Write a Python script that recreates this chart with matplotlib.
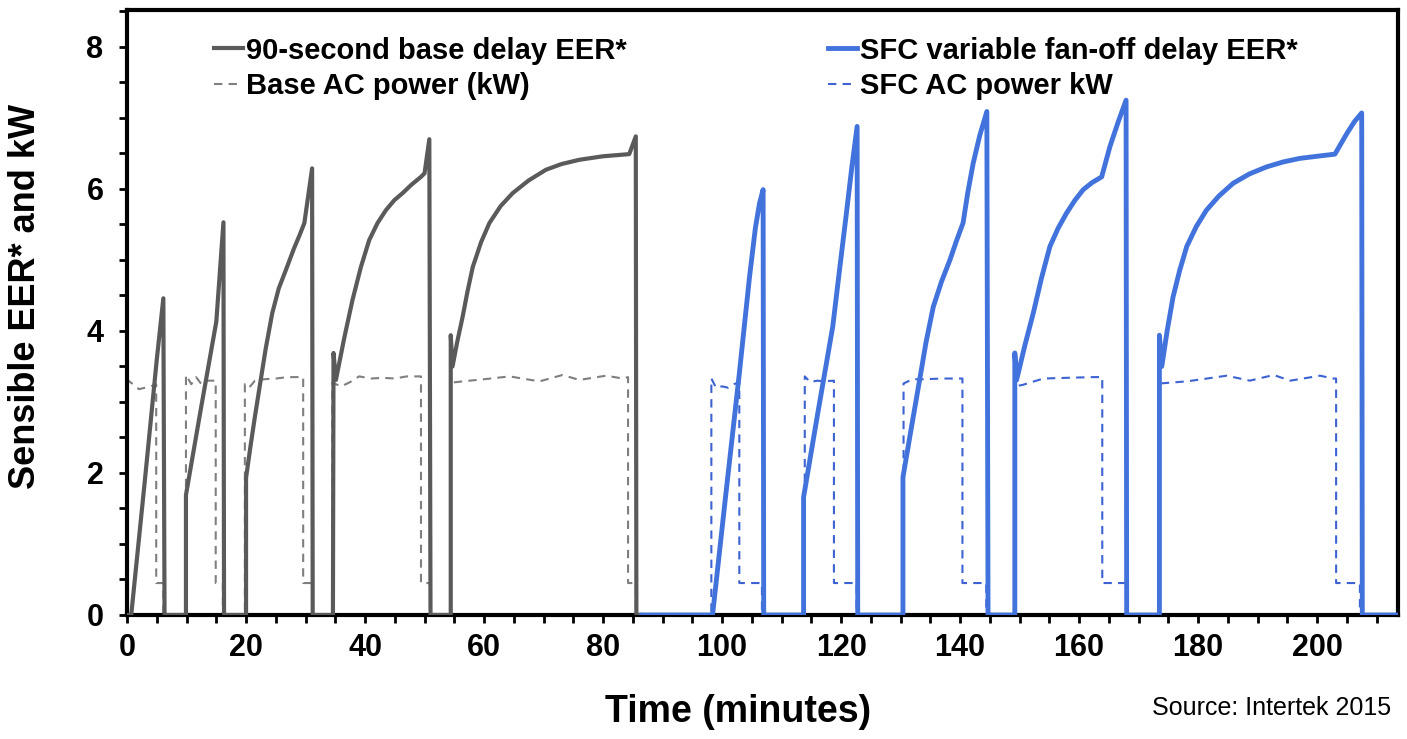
import matplotlib
matplotlib.use("Agg")
import matplotlib.pyplot as plt
from matplotlib.ticker import MultipleLocator

# time in minutes
base_eer_t = [0, 0.7, 3.0, 5.0, 6.1, 6.3,
              9.9, 9.9, 12.4, 15.0, 16.2, 16.3,
              20.0, 20.0, 20.7, 21.5, 22.2, 23.3, 24.4, 25.5, 26.7, 28.0, 29.0, 29.8, 31.1, 31.2,
              34.6, 34.7, 35.1, 36.5, 37.9, 39.3, 40.7, 42.1, 43.5, 44.9, 46.3, 47.8, 49.4, 50.0,
              50.8, 51.0,
              54.4, 54.4, 54.7, 55.5, 56.4, 57.2, 58.1, 59.5, 60.9, 62.8, 64.8, 67.5, 70.4, 73.0,
              76.0, 80.0, 84.4, 85.5, 85.6, 86.5]
base_eer_v = [0, 0, 1.9, 3.6, 4.46, 0,
              0, 1.69, 2.9, 4.13, 5.53, 0,
              0, 1.93, 2.35, 2.8, 3.17, 3.75, 4.25, 4.6, 4.86, 5.15, 5.35, 5.52, 6.29, 0,
              0, 3.69, 3.31, 3.9, 4.44, 4.9, 5.28, 5.52, 5.70, 5.84, 5.94, 6.06, 6.17, 6.22,
              6.70, 0,
              0, 3.94, 3.50, 3.85, 4.2, 4.55, 4.9, 5.25, 5.52, 5.76, 5.94, 6.12, 6.27, 6.35,
              6.41, 6.46, 6.49, 6.74, 0, 0]

sfc_eer_t = [86.5, 98.4, 100.5, 102.9, 104.6, 105.6, 106.3, 106.9, 107.0,
             113.7, 113.7, 116.0, 118.6, 119.8, 120.9, 121.8, 122.7, 122.8,
             130.4, 130.4, 131.8, 133.2, 134.3, 135.5, 136.9, 138.3, 139.4, 140.5, 141.3,
             142.2, 143.3, 144.5, 144.7,
             149.2, 149.2, 149.5, 150.9, 152.3, 153.7, 155.1, 156.5, 157.9, 159.3, 160.7,
             162.2, 163.8, 165.2, 166.6, 167.9, 168.0,
             173.5, 173.5, 173.9, 174.8, 175.8, 176.9, 178.1, 179.7, 181.4, 183.5, 185.9,
             188.6, 191.5, 194.3, 197.1, 200.0, 203.0, 205.0, 206.3, 207.5, 207.6, 214]
sfc_eer_v = [0, 0, 1.6, 3.4, 4.75, 5.45, 5.8, 5.99, 0,
             0, 1.66, 2.8, 4.06, 4.9, 5.66, 6.3, 6.88, 0,
             0, 1.94, 2.63, 3.31, 3.85, 4.34, 4.7, 5.0, 5.27, 5.52, 5.95,
             6.36, 6.75, 7.09, 0,
             0, 3.69, 3.31, 3.8, 4.25, 4.75, 5.19, 5.45, 5.66, 5.84, 5.99,
             6.09, 6.17, 6.60, 6.95, 7.25, 0,
             0, 3.94, 3.50, 4.0, 4.48, 4.85, 5.19, 5.47, 5.70, 5.9, 6.08,
             6.21, 6.31, 6.38, 6.43, 6.46, 6.49, 6.78, 6.95, 7.07, 0, 0]

base_kw_t = [0, 0.05, 1.0, 2.0, 3.0, 4.0, 4.9, 4.9, 6.1, 6.1,
             9.9, 9.9, 10.8, 11.6, 12.5, 13.5, 14.9, 14.9, 16.1, 16.1,
             19.8, 19.8, 20.5, 21.5, 23.0, 25.0, 27.0, 29.6, 29.6, 31.1, 31.1,
             34.5, 34.5, 36.0, 37.5, 39.0, 41.0, 43.0, 45.0, 47.0, 49.4, 49.4, 51.0, 51.0,
             54.4, 54.4, 56.4, 60.0, 64.3, 69.3, 73.2, 76.0, 80.5, 83.3, 84.2, 84.2,
             85.5, 85.5, 86.5]
base_kw_v = [0, 3.31, 3.25, 3.18, 3.2, 3.22, 3.25, 0.45, 0.45, 0,
             0, 3.38, 3.25, 3.35, 3.25, 3.3, 3.3, 0.45, 0.45, 0,
             0, 3.25, 3.2, 3.3, 3.32, 3.33, 3.35, 3.35, 0.45, 0.45, 0,
             0, 3.27, 3.22, 3.28, 3.36, 3.33, 3.34, 3.33, 3.36, 3.36, 0.45, 0.45, 0,
             0, 3.27, 3.29, 3.32, 3.36, 3.29, 3.38, 3.31, 3.37, 3.33, 3.35, 0.45,
             0.45, 0, 0]

sfc_kw_t = [86.5, 98.2, 98.2, 99.0, 100.0, 101.0, 102.0, 102.9, 102.9, 106.7, 106.7,
            113.9, 113.9, 114.8, 116.0, 117.0, 118.8, 118.8, 122.6, 122.6,
            130.5, 130.5, 132.0, 134.0, 137.0, 140.4, 140.4, 144.4, 144.4,
            149.2, 149.2, 150.5, 154.0, 158.0, 162.3, 163.9, 163.9, 168.0, 168.0,
            173.5, 173.5, 178.1, 181.5, 184.8, 188.7, 192.7, 195.5, 200.5, 202.7,
            203.2, 203.2, 207.2, 207.2, 214]
sfc_kw_v = [0, 0, 3.33, 3.2, 3.22, 3.2, 3.25, 3.28, 0.45, 0.45, 0,
            0, 3.36, 3.28, 3.3, 3.29, 3.3, 0.45, 0.45, 0,
            0, 3.26, 3.32, 3.32, 3.33, 3.33, 0.45, 0.45, 0,
            0, 3.22, 3.24, 3.33, 3.34, 3.35, 3.35, 0.45, 0.45, 0,
            0, 3.26, 3.29, 3.33, 3.37, 3.30, 3.38, 3.30, 3.37, 3.33,
            3.33, 0.45, 0.45, 0, 0]

labels = ["90-second base delay EER*", "Base AC power (kW)",
          "SFC variable fan-off delay EER*", "SFC AC power kW"]

GRAY = "#5a5a5a"
GRAY_D = "#7f7f7f"
BLUE = "#4273dc"
BLUE_D = "#3d62d2"

plt.rcParams['font.family'] = ['Liberation Sans', 'DejaVu Sans']

fig = plt.figure(figsize=(14.07, 7.39), dpi=100)
ax = fig.add_axes([0.0903, 0.1678, 0.9033, 0.8187])

l2, = ax.plot(base_kw_t, base_kw_v, color=GRAY_D, lw=1.5, ls=(0, (4, 3)), zorder=2)
l4, = ax.plot(sfc_kw_t, sfc_kw_v, color=BLUE_D, lw=1.5, ls=(0, (4, 3)), zorder=2)
l1, = ax.plot(base_eer_t, base_eer_v, color=GRAY, lw=3.0, zorder=3)
l3, = ax.plot(sfc_eer_t, sfc_eer_v, color=BLUE, lw=3.5, zorder=4)

ax.set_xlim(0, 213.6)
ax.set_ylim(0, 8.52)
ax.xaxis.set_major_locator(MultipleLocator(20))
ax.xaxis.set_minor_locator(MultipleLocator(5))
ax.yaxis.set_major_locator(MultipleLocator(2))
ax.yaxis.set_minor_locator(MultipleLocator(0.5))
ax.tick_params(which='both', direction='out', length=6, width=2, color='black')
ax.tick_params(axis='both', which='major', labelsize=22)
ax.tick_params(axis='x', which='major', pad=7)
ax.tick_params(axis='y', which='major', pad=11)
for lab in ax.get_xticklabels() + ax.get_yticklabels():
    lab.set_fontweight('bold')
for sp in ax.spines.values():
    sp.set_linewidth(3)
    sp.set_color('black')

ax.set_xlabel("Time (minutes)", fontsize=27, fontweight='bold')
ax.set_ylabel("Sensible EER* and kW", fontsize=26, fontweight='bold')
ax.xaxis.set_label_coords(0.481, -0.13)
ax.yaxis.set_label_coords(-0.066, 0.526)

leg = ax.legend([l1, l2, l3, l4], labels, ncol=2, loc='upper left',
                bbox_to_anchor=(0.0545, 0.985), frameon=False,
                prop={'size': 21, 'weight': 'bold'}, handlelength=1.0,
                handletextpad=0.1, columnspacing=6.9, labelspacing=0.25,
                borderaxespad=0.2)

fig.text(0.989, 0.042, "Source: Intertek 2015", ha='right', va='center', fontsize=18)

fig.savefig("out.png", dpi=100)
